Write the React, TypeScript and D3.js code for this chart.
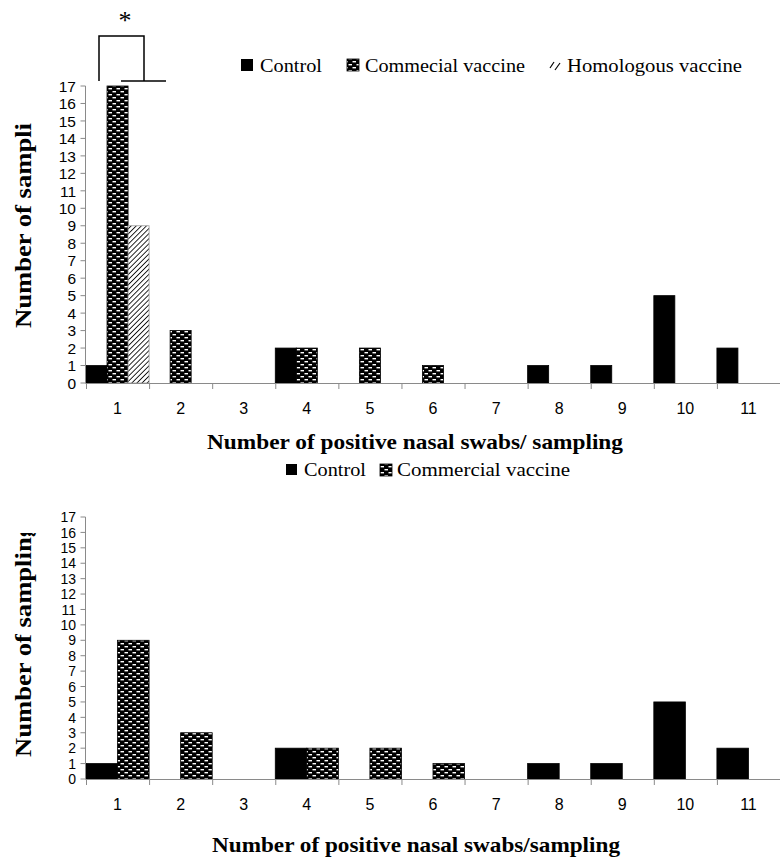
import React from "react";
import * as d3 from "d3";

const categories = ["1", "2", "3", "4", "5", "6", "7", "8", "9", "10", "11"];
const yTicks = [0, 1, 2, 3, 4, 5, 6, 7, 8, 9, 10, 11, 12, 13, 14, 15, 16, 17];

const topControl = [1, 0, 0, 2, 0, 0, 0, 1, 1, 5, 2];
const topCommercial = [17, 3, 0, 2, 2, 1, 0, 0, 0, 0, 0];
const topHomologous = [9, 0, 0, 0, 0, 0, 0, 0, 0, 0, 0];

const bottomControl = [1, 0, 0, 2, 0, 0, 0, 1, 1, 5, 2];
const bottomCommercial = [9, 3, 0, 2, 2, 1, 0, 0, 0, 0, 0];

const topSeries = ["Control", "Commecial vaccine", "Homologous vaccine"];
const bottomSeries = ["Control", "Commercial vaccine"];

const SERIF = "'Liberation Serif', 'Times New Roman', serif";
const SANS = "'Liberation Sans', Arial, sans-serif";
const AXIS = "#8a8a8a";

type Panel = {
  y0: number;
  y17: number;
  series: number[][];
  fills: string[];
  strokes: string[];
  yFont: number;
};

function BarsPanel({ p }: { p: Panel }) {
  const x = d3.scaleBand<string>().domain(categories).range([86, 780]).padding(0);
  const y = d3.scaleLinear().domain([0, 17]).range([p.y0, p.y17]);
  const sub = d3
    .scaleBand<number>()
    .domain(d3.range(p.series.length))
    .range([0, x.bandwidth()])
    .padding(0);
  return (
    <g>
      {p.series.map((vals, si) =>
        vals.map((v, ci) =>
          v > 0 ? (
            <rect
              key={`${si}-${ci}`}
              x={(x(categories[ci]) as number) + (sub(si) as number)}
              y={y(v)}
              width={sub.bandwidth()}
              height={y(0) - y(v)}
              fill={p.fills[si]}
              stroke={p.strokes[si]}
              strokeWidth={0.8}
            />
          ) : null
        )
      )}
      {/* y axis */}
      <line x1={85.5} x2={85.5} y1={y(0)} y2={y(17)} stroke={AXIS} strokeWidth={1} />
      {yTicks.map((t) => (
        <g key={t}>
          <line x1={80.5} x2={85.5} y1={y(t)} y2={y(t)} stroke={AXIS} strokeWidth={1} />
          <text
            x={76}
            y={y(t)}
            dy="0.37em"
            textAnchor="end"
            fontFamily={SANS}
            fontSize={p.yFont}
            fill="#000"
          >
            {t}
          </text>
        </g>
      ))}
      {/* x axis */}
      <line x1={85.5} x2={780} y1={y(0) + 0.5} y2={y(0) + 0.5} stroke={AXIS} strokeWidth={1} />
      {categories.map((c) => (
        <g key={c}>
          <line
            x1={(x(c) as number) + 0.5}
            x2={(x(c) as number) + 0.5}
            y1={y(0)}
            y2={y(0) + 6}
            stroke={AXIS}
            strokeWidth={1}
          />
          <text
            x={(x(c) as number) + x.bandwidth() / 2}
            y={y(0) + 31}
            textAnchor="middle"
            fontFamily={SANS}
            fontSize={16}
            fill="#000"
          >
            {c}
          </text>
        </g>
      ))}
    </g>
  );
}

export default function App() {
  const x = d3.scaleBand<string>().domain(categories).range([86, 780]).padding(0);
  const x1 = x("1") as number;

  const top: Panel = {
    y0: 383,
    y17: 86,
    series: [topControl, topCommercial, topHomologous],
    fills: ["#000", "url(#dash)", "url(#hatch)"],
    strokes: ["#000", "#000", "#999"],
    yFont: 15.5,
  };
  const bottom: Panel = {
    y0: 779,
    y17: 517,
    series: [bottomControl, bottomCommercial],
    fills: ["#000", "url(#dash)"],
    strokes: ["#000", "#000"],
    yFont: 14,
  };

  return (
    <svg
      width={780}
      height={861}
      style={{ position: "absolute", left: 0, top: 0, background: "#fff" }}
    >
      <defs>
        <pattern id="dash" width={8} height={6} patternUnits="userSpaceOnUse">
          <rect width={8} height={6} fill="#000" />
          <rect x={0.5} y={1} width={3.5} height={1.4} fill="#fff" />
          <rect x={4.5} y={4} width={3.5} height={1.4} fill="#fff" />
        </pattern>
        <pattern
          id="hatch"
          width={3.6}
          height={3.6}
          patternUnits="userSpaceOnUse"
          patternTransform="rotate(45)"
        >
          <rect width={3.6} height={3.6} fill="#fff" />
          <line x1={0} y1={0} x2={0} y2={3.6} stroke="#000" strokeWidth={1.7} />
        </pattern>
        <clipPath id="ytitleClip">
          <rect x={0} y={533} width={60} height={300} />
        </clipPath>
      </defs>

      <rect width={780} height={861} fill="#fff" />

      {/* significance bracket */}
      <g stroke="#000" strokeWidth={1.5} fill="none">
        <path d={`M${x1 + 13},81 V36 H${x1 + 58} V81`} />
        <path d={`M${x1 + 35},81 H${x1 + 80}`} />
      </g>
      <text x={x1 + 39} y={29} textAnchor="middle" fontFamily={SERIF} fontSize={26} fill="#000">
        *
      </text>

      {/* top legend */}
      <g fontFamily={SERIF} fontSize={19} fill="#000">
        <rect x={241} y={59} width={12} height={12} fill="#000" />
        <text x={260} y={72} textLength={62} lengthAdjust="spacingAndGlyphs">{topSeries[0]}</text>
        <rect x={347} y={59} width={12} height={12} fill="url(#dash)" stroke="#000" strokeWidth={0.8} />
        <text x={365} y={72} textLength={160} lengthAdjust="spacingAndGlyphs">{topSeries[1]}</text>
        <g stroke="#000" strokeWidth={1.2}>
          <line x1={550} y1={68} x2={554} y2={62} />
          <line x1={555} y1={70} x2={560} y2={63} />
        </g>
        <text x={567} y={72} textLength={175} lengthAdjust="spacingAndGlyphs">{topSeries[2]}</text>
      </g>

      <BarsPanel p={top} />

      {/* top titles */}
      <text
        transform="translate(31,328) rotate(-90)"
        fontFamily={SERIF}
        fontWeight="bold"
        fontSize={23}
        textLength={205}
        lengthAdjust="spacingAndGlyphs"
        fill="#000"
      >
        Number of sampli
      </text>
      <text
        x={207}
        y={449}
        fontFamily={SERIF}
        fontWeight="bold"
        fontSize={21}
        textLength={416}
        lengthAdjust="spacingAndGlyphs"
        fill="#000"
      >
        Number of positive nasal swabs/ sampling
      </text>

      {/* bottom legend */}
      <g fontFamily={SERIF} fontSize={19} fill="#000">
        <rect x={286} y={464} width={11} height={11} fill="#000" />
        <text x={304} y={476} textLength={62} lengthAdjust="spacingAndGlyphs">{bottomSeries[0]}</text>
        <rect x={380} y={464} width={12} height={12} fill="url(#dash)" stroke="#000" strokeWidth={0.8} />
        <text x={397} y={476} textLength={173} lengthAdjust="spacingAndGlyphs">{bottomSeries[1]}</text>
      </g>

      <BarsPanel p={bottom} />

      {/* bottom titles */}
      <g clipPath="url(#ytitleClip)">
        <text
          transform="translate(31,757) rotate(-90)"
          fontFamily={SERIF}
          fontWeight="bold"
          fontSize={23}
          textLength={233}
          lengthAdjust="spacingAndGlyphs"
          fill="#000"
        >
          Number of sampling
        </text>
      </g>
      <text
        x={212}
        y={852}
        fontFamily={SERIF}
        fontWeight="bold"
        fontSize={21}
        textLength={408}
        lengthAdjust="spacingAndGlyphs"
        fill="#000"
      >
        Number of positive nasal swabs/sampling
      </text>
    </svg>
  );
}
